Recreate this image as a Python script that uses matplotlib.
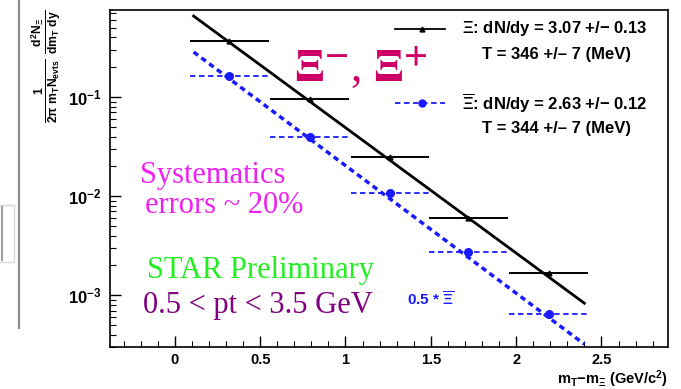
import matplotlib
matplotlib.use('Agg')
import matplotlib.pyplot as plt
from matplotlib.ticker import MultipleLocator, LogLocator, FuncFormatter
from matplotlib.patches import Rectangle
from matplotlib.lines import Line2D

plt.rcParams['font.family'] = ['Liberation Sans', 'DejaVu Sans']
plt.rcParams['font.weight'] = 'bold'
plt.rcParams['mathtext.fontset'] = 'custom'
plt.rcParams['mathtext.rm'] = 'Liberation Sans:bold'
plt.rcParams['mathtext.it'] = 'Liberation Sans:bold'
plt.rcParams['mathtext.bf'] = 'Liberation Sans:bold'

# m_T - m_Xi bins (GeV/c^2)
mt_centers = [0.32, 0.79, 1.26, 1.72, 2.19]
mt_halfwidth = [0.23, 0.23, 0.23, 0.23, 0.23]

# invariant yields
xi_minus = [0.368, 0.095, 0.0248, 0.0060, 0.00167]
xi_plus_half = [0.163, 0.0395, 0.0107, 0.00272, 0.000643]   # scaled by 0.5

# fit curves over the fit range
fit_mt = [0.11, 2.40]
fit_xi_minus = [0.658, 8.3e-4]
fit_xi_plus_half = [0.285, 3.2e-4]

blue = '#1a1aff'

fig = plt.figure(figsize=(6.81, 3.89), dpi=100)
ax = fig.add_axes([110/681, 1 - 347/389, 558/681, 337/389])

ax.plot(fit_mt, fit_xi_minus, color='black', lw=2)
ax.plot(fit_mt, fit_xi_plus_half, color=blue, lw=2.5, ls=(0, (1.6, 1.2)))

ax.errorbar(mt_centers, xi_minus, xerr=mt_halfwidth, fmt='^', color='black',
            ms=3.5, elinewidth=1.4, capsize=0)
eb = ax.errorbar(mt_centers, xi_plus_half, xerr=mt_halfwidth, fmt='o', color=blue,
                 ms=5.5, elinewidth=1.3, capsize=0)
for lc in eb.lines[2]:
    lc.set_linestyle((0, (3, 2)))

ax.set_yscale('log')
ax.set_xlim(-0.38, 2.89)
ax.set_ylim(3.0e-4, 0.757)

ax.xaxis.set_major_locator(MultipleLocator(0.5))
ax.xaxis.set_minor_locator(MultipleLocator(0.1))
ax.xaxis.set_major_formatter(FuncFormatter(lambda v, p: '%g' % v))
ax.yaxis.set_major_locator(LogLocator(base=10))
ax.yaxis.set_minor_locator(LogLocator(base=10, subs=range(2, 10)))
ax.tick_params(which='both', direction='in', top=False, right=False)
ax.tick_params(which='major', length=8, width=1)
ax.tick_params(which='minor', length=4, width=0.8)
ax.tick_params(axis='x', labelsize=10.5, pad=4)
ax.tick_params(axis='y', labelsize=12, pad=6)
for s in ax.spines.values():
    s.set_linewidth(1.2)

def fx(px):
    return (px - 110) / 558

def fy(py):
    return 1 - (py - 10) / 337

# legend
ax.add_line(Line2D([fx(395), fx(445)], [fy(29), fy(29)], transform=ax.transAxes,
                   color='black', lw=1.3))
ax.add_line(Line2D([fx(422)], [fy(29)], transform=ax.transAxes, color='black',
                   marker='^', ms=3.5))
ax.add_line(Line2D([fx(395), fx(445)], [fy(103), fy(103)], transform=ax.transAxes,
                   color=blue, lw=1.3, ls=(0, (3, 2))))
ax.add_line(Line2D([fx(422)], [fy(103)], transform=ax.transAxes, color=blue,
                   marker='o', ms=5))
ax.text(fx(555), fy(28), r'$\Xi$: dN/dy = 3.07 +/$-$ 0.13', transform=ax.transAxes,
        ha='center', va='center', fontsize=12)
ax.text(fx(557), fy(54), 'T = 346 +/\u2013 7 (MeV)', transform=ax.transAxes,
        ha='center', va='center', fontsize=12)
ax.text(fx(555), fy(103), r'$\overline{\Xi}$: dN/dy = 2.63 +/$-$ 0.12', transform=ax.transAxes,
        ha='center', va='center', fontsize=12)
ax.text(fx(557), fy(129), 'T = 344 +/\u2013 7 (MeV)', transform=ax.transAxes,
        ha='center', va='center', fontsize=12)

# annotations
ax.text(fx(294), fy(82), r'$\Xi^{-}$, $\Xi^{+}$', transform=ax.transAxes,
        color='#cc0066', fontsize=33, family='Liberation Serif', weight='normal',
        math_fontfamily='stix', va='baseline')
ax.text(fx(140), fy(183), 'Systematics', transform=ax.transAxes, color='#ee22ee',
        fontsize=22, family='Liberation Serif', weight='normal', va='baseline')
ax.text(fx(145), fy(213), 'errors ~ 20%', transform=ax.transAxes, color='#ee22ee',
        fontsize=22, family='Liberation Serif', weight='normal', va='baseline')
ax.text(fx(147), fy(278), 'STAR Preliminary', transform=ax.transAxes, color='#22ee22',
        fontsize=22, family='Liberation Serif', weight='normal', va='baseline')
ax.text(fx(143), fy(313), '0.5 < pt < 3.5 GeV', transform=ax.transAxes, color='#800080',
        fontsize=22, family='Liberation Serif', weight='normal', va='baseline')
ax.text(fx(407), fy(300), r'0.5 * $\overline{\Xi}$', transform=ax.transAxes, color=blue,
        fontsize=11, va='center')

# axis titles
fig.text(668/681, 1 - 379/389, r'$m_{T}$$-$$m_{\Xi}$ (GeV/c$^{2}$)', ha='right',
         va='center', fontsize=10.5)
fig.text(47/681, 1 - 10/389,
         r'$\frac{1}{2\pi\ m_{T} N_{evts}}\ \frac{d^{2}N_{\Xi}}{dm_{T}\ dy}$',
         rotation=90, ha='center', va='top', fontsize=12.5)

# window edge on the left
fig.add_artist(Line2D([19/681, 19/681], [1 - 328/389, 1], transform=fig.transFigure,
                      color='#8c8c8c', lw=1.6))
fig.add_artist(Rectangle((-2/681, 1 - 262/389), 16/681, 57/389, transform=fig.transFigure,
                         facecolor='white', edgecolor='#d8d8d8', lw=1))
fig.add_artist(Line2D([2/681, 2/681], [1 - 260/389, 1 - 207/389], transform=fig.transFigure,
                      color='#a0a0a0', lw=1.5))

fig.savefig('out.png', dpi=100)
